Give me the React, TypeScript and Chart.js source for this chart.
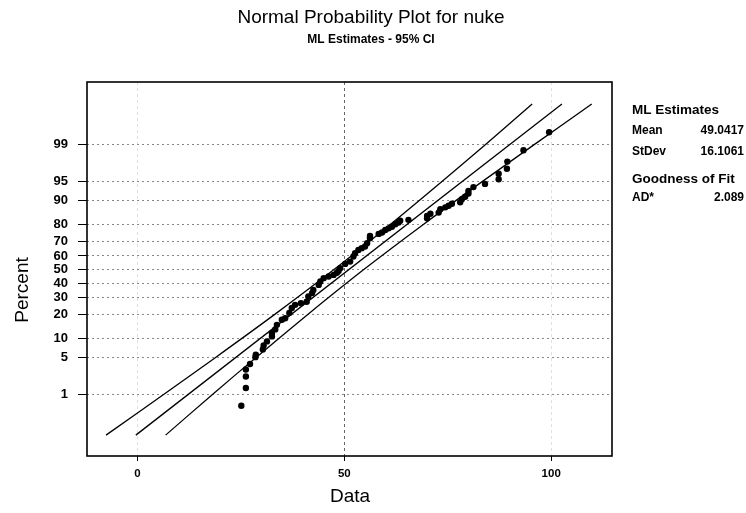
import React, { useEffect, useRef } from "react";
import { Chart, registerables } from "chart.js";

Chart.register(...registerables);

// ---------- data ----------
const tickPercents = [1, 5, 10, 20, 30, 40, 50, 60, 70, 80, 90, 95, 99];
const xTicks = [0, 50, 100];

const dataX = [
  25.1, 26.2, 26.2, 26.2, 27.2, 28.5, 28.6, 30.3, 30.5, 31.3, 32.5, 32.5, 33.3, 33.7,
  34.9, 35.7, 36.7, 37.3, 38.1, 39.5, 40.9, 41.3, 42.2, 42.5, 43.8, 44.2, 45.0, 46.2,
  47.4, 48.2, 48.6, 49.0, 50.2, 51.4, 52.2, 52.6, 53.4, 54.2, 55.0, 55.5, 56.2, 56.2,
  58.3, 59.1, 59.9, 60.7, 61.5, 62.3, 63.1, 63.5, 65.5, 70.0, 70.0, 70.8, 72.8, 73.2,
  74.4, 75.2, 76.0, 78.0, 78.4, 79.2, 80.0, 80.0, 81.2, 84.0, 87.3, 87.3, 89.3, 89.4,
  93.3, 99.5,
];
const dataPct = [
  0.55, 1.35, 2.3, 3.1, 3.9, 5.1, 5.6, 6.8, 7.8, 9.0, 10.6, 11.7, 13.2, 15.1,
  17.4, 18.2, 20.9, 23.6, 25.5, 26.5, 27.4, 30.8, 33.0, 35.2, 38.7, 41.2, 43.6, 44.8,
  46.0, 47.6, 49.0, 51.0, 54.2, 55.9, 59.6, 62.0, 64.3, 65.5, 66.6, 68.8, 72.1, 73.5,
  74.7, 75.5, 77.0, 77.9, 78.8, 80.1, 81.0, 81.9, 82.3, 83.1, 84.1, 85.1, 85.6, 87.0,
  87.7, 88.3, 89.0, 89.5, 90.5, 91.3, 92.2, 92.9, 93.8, 94.5, 95.4, 96.3, 97.0, 97.8,
  98.7, 99.48,
];

const fitX = [-0.4, 102.6];
const fitPct = [0.1, 99.9];

const ciPct = [0.1, 1, 5, 20, 50, 80, 95, 99, 99.9];
const ciLowerX = [-7.6, 6.4, 18.8, 33.1, 47.5, 61.1, 73.6, 84.0, 95.4];
const ciUpperX = [6.8, 18.2, 28.6, 41.1, 54.7, 69.1, 83.4, 95.8, 109.8];

const titleText = "Normal Probability Plot for nuke";
const subtitleText = "ML Estimates - 95% CI";
const xTitle = "Data";
const yTitle = "Percent";
const panelHeading1 = "ML Estimates";
const statLabels = ["Mean", "StDev"];
const statValues = ["49.0417", "16.1061"];
const panelHeading2 = "Goodness of Fit";
const gofLabels = ["AD*"];
const gofValues = ["2.089"];

// ---------- probability scale transform (inverse normal CDF) ----------
function probit(p: number): number {
  const a = [-3.969683028665376e1, 2.209460984245205e2, -2.759285104469687e2, 1.38357751867269e2, -3.066479806614716e1, 2.506628277459239];
  const b = [-5.447609879822406e1, 1.615858368580409e2, -1.556989798598866e2, 6.680131188771972e1, -1.328068155288572e1];
  const c = [-7.784894002430293e-3, -3.223964580411365e-1, -2.400758277161838, -2.549732539343734, 4.374664141464968, 2.938163982698783];
  const d = [7.784695709041462e-3, 3.224671290700398e-1, 2.445134137142996, 3.754408661907416];
  const pl = 0.02425;
  const ph = 1 - pl;
  if (p < pl) {
    const q = Math.sqrt(-2 * Math.log(p));
    return (((((c[0] * q + c[1]) * q + c[2]) * q + c[3]) * q + c[4]) * q + c[5]) / ((((d[0] * q + d[1]) * q + d[2]) * q + d[3]) * q + 1);
  }
  if (p <= ph) {
    const q = p - 0.5;
    const r = q * q;
    return ((((((a[0] * r + a[1]) * r + a[2]) * r + a[3]) * r + a[4]) * r + a[5]) * q) / (((((b[0] * r + b[1]) * r + b[2]) * r + b[3]) * r + b[4]) * r + 1);
  }
  const q = Math.sqrt(-2 * Math.log(1 - p));
  return -(((((c[0] * q + c[1]) * q + c[2]) * q + c[3]) * q + c[4]) * q + c[5]) / ((((d[0] * q + d[1]) * q + d[2]) * q + d[3]) * q + 1);
}
const z = (pct: number) => probit(pct / 100);

const FONT = "'Liberation Sans', Arial, Helvetica, sans-serif";

const textPlugin = {
  id: "textPlugin",
  afterDraw(chart: any) {
    const ctx = chart.ctx as CanvasRenderingContext2D;
    const area = chart.chartArea;
    ctx.save();
    // frame
    ctx.strokeStyle = "#000";
    ctx.lineWidth = 1.6;
    ctx.strokeRect(area.left, area.top, area.right - area.left, area.bottom - area.top);

    ctx.fillStyle = "#000";
    ctx.textBaseline = "middle";
    // titles
    ctx.textAlign = "center";
    ctx.font = `19px ${FONT}`;
    ctx.fillText(titleText, 371, 18);
    ctx.font = `bold 12px ${FONT}`;
    ctx.fillText(subtitleText, 371, 40);
    // axis titles
    ctx.font = `19px ${FONT}`;
    ctx.fillText(xTitle, 350, 497);
    ctx.save();
    ctx.translate(23, 290);
    ctx.rotate(-Math.PI / 2);
    ctx.fillText(yTitle, 0, 0);
    ctx.restore();
    // right panel
    const lx = 632;
    const rx = 744;
    ctx.textAlign = "left";
    ctx.font = `bold 13.5px ${FONT}`;
    ctx.fillText(panelHeading1, lx, 110);
    ctx.font = `bold 12px ${FONT}`;
    statLabels.forEach((l, i) => {
      ctx.textAlign = "left";
      ctx.fillText(l, lx, 131 + i * 21);
      ctx.textAlign = "right";
      ctx.fillText(statValues[i], rx, 131 + i * 21);
    });
    ctx.textAlign = "left";
    ctx.font = `bold 13.5px ${FONT}`;
    ctx.fillText(panelHeading2, lx, 179);
    ctx.font = `bold 12px ${FONT}`;
    gofLabels.forEach((l, i) => {
      ctx.textAlign = "left";
      ctx.fillText(l, lx, 198 + i * 21);
      ctx.textAlign = "right";
      ctx.fillText(gofValues[i], rx, 198 + i * 21);
    });
    ctx.restore();
  },
};

export default function App() {
  const ref = useRef<HTMLCanvasElement>(null);
  useEffect(() => {
    if (!ref.current) return;
    const lineStyle = {
      showLine: true,
      pointRadius: 0,
      borderColor: "#000",
      borderWidth: 1.3,
      backgroundColor: "#000",
      tension: 0.3,
    };
    const chart = new Chart(ref.current, {
      type: "scatter",
      data: {
        datasets: [
          {
            label: "data",
            data: dataX.map((x, i) => ({ x, y: z(dataPct[i]) })),
            pointRadius: 3.2,
            pointBackgroundColor: "#000",
            pointBorderWidth: 0,
            showLine: false,
          },
          { label: "fit", data: fitX.map((x, i) => ({ x, y: z(fitPct[i]) })), ...lineStyle, tension: 0 },
          { label: "lower", data: ciLowerX.map((x, i) => ({ x, y: z(ciPct[i]) })), ...lineStyle },
          { label: "upper", data: ciUpperX.map((x, i) => ({ x, y: z(ciPct[i]) })), ...lineStyle },
        ] as any,
      },
      options: {
        animation: false,
        responsive: false,
        layout: { padding: { left: 0, top: 82, right: 134, bottom: 0 } },
        plugins: { legend: { display: false }, tooltip: { enabled: false } },
        scales: {
          x: {
            type: "linear",
            min: -12.2,
            max: 114.7,
            afterFit: (s: any) => {
              s.height = 57;
            },
            afterBuildTicks: (s: any) => {
              s.ticks = xTicks.map((v) => ({ value: v }));
            },
            ticks: {
              color: "#000",
              font: { family: FONT, size: 11.5, weight: "bold" },
              padding: 6,
              maxRotation: 0,
              autoSkip: false,
            },
            grid: {
              color: (c: any) => (c.tick && c.tick.value === 50 ? "#666" : "rgba(0,0,0,0.12)"),
              tickColor: "#000",
              tickLength: 5,
              lineWidth: 1,
            },
            border: { display: false, dash: [3, 3] },
          },
          y: {
            type: "linear",
            min: -3.48,
            max: 3.5,
            afterFit: (s: any) => {
              s.width = 87;
            },
            afterBuildTicks: (s: any) => {
              s.ticks = tickPercents.map((p) => ({ value: z(p) }));
            },
            ticks: {
              color: "#000",
              font: { family: FONT, size: 13, weight: "bold" },
              padding: 10,
              autoSkip: false,
              callback: (_v: any, i: number) => String(tickPercents[i]),
            },
            grid: {
              color: "#888",
              tickColor: "#000",
              tickLength: 9,
              lineWidth: 1,
            },
            border: { display: false, dash: [2, 3] },
          },
        },
      } as any,
      plugins: [textPlugin],
    });
    return () => chart.destroy();
  }, []);
  return (
    <div style={{ position: "fixed", left: 0, top: 0, width: 746, height: 513, background: "#fff" }}>
      <canvas ref={ref} width={746} height={513} style={{ display: "block" }} />
    </div>
  );
}
